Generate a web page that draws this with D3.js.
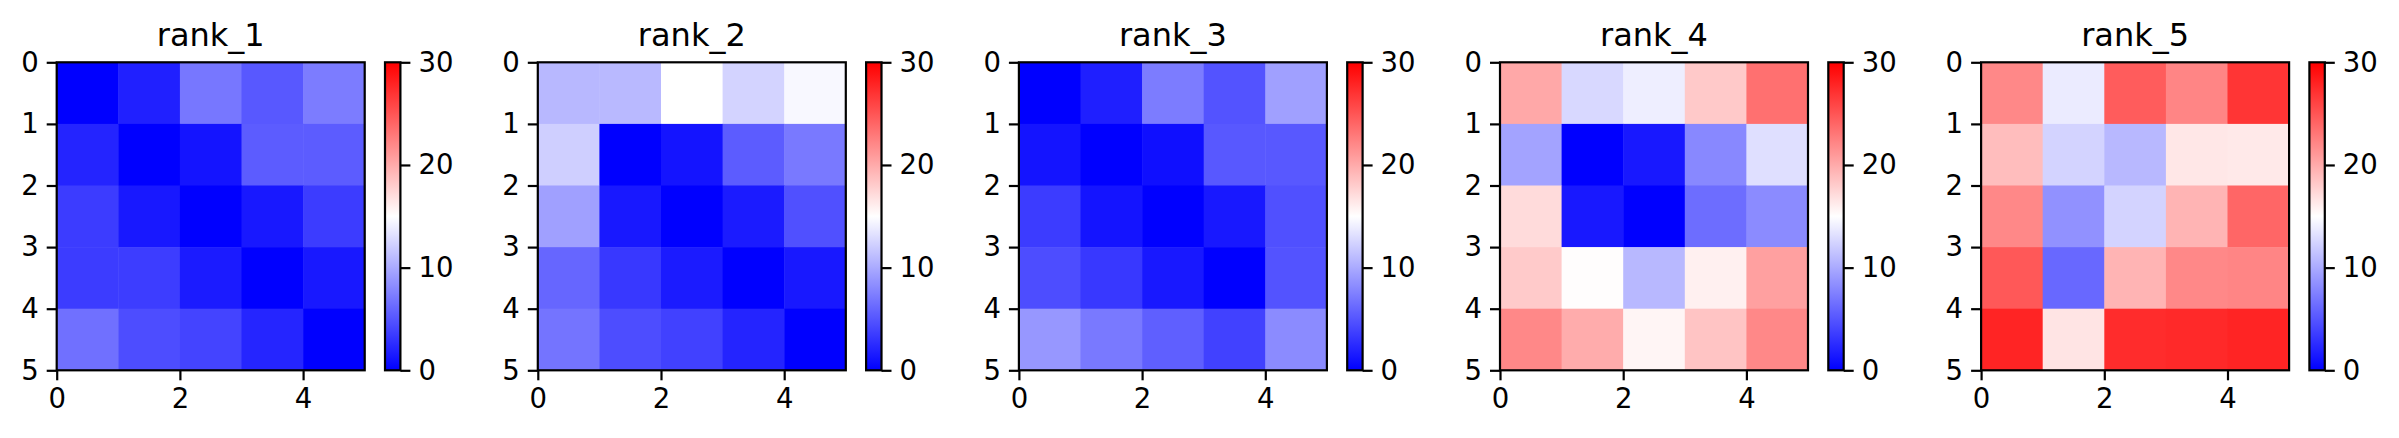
<!DOCTYPE html>
<html>
<head>
  <meta charset="utf-8">
  <script src="https://d3js.org/d3.v7.min.js"></script>
  <style>
    body { margin: 0; background: #fff; }
    svg text { font-family: "DejaVu Sans", sans-serif; fill: #000; }
    .axis path, .axis line { stroke: #000; stroke-width: 2.2px; }
  </style>
</head>
<body>
<div id="chart"></div>
<script>
  // values (colour scale 0..30, bwr)
  var titles = ["rank_1", "rank_2", "rank_3", "rank_4", "rank_5"];

  var rank1 = [
    [0.0, 1.9, 7.0, 5.2, 7.3],
    [2.1, 0.0, 1.2, 5.4, 5.4],
    [3.5, 1.4, 0.0, 1.4, 3.5],
    [3.5, 3.6, 1.6, 0.0, 1.4],
    [6.6, 4.5, 4.0, 2.2, 0.0]
  ];
  var rank2 = [
    [10.8, 10.9, 15.0, 12.4, 14.6],
    [12.2, 0.0, 1.2, 5.4, 7.1],
    [9.4, 1.4, 0.0, 1.6, 4.7],
    [6.0, 3.3, 1.6, 0.0, 1.4],
    [6.8, 4.5, 3.8, 2.1, 0.0]
  ];
  var rank3 = [
    [0.0, 1.8, 7.3, 4.9, 9.4],
    [1.2, 0.0, 0.9, 5.2, 5.2],
    [3.5, 1.2, 0.0, 1.4, 4.7],
    [4.5, 3.3, 1.4, 0.0, 4.9],
    [8.9, 7.1, 5.6, 3.8, 8.2]
  ];
  var rank4 = [
    [20.1, 12.7, 14.0, 18.2, 23.4],
    [9.6, 0.0, 1.4, 8.0, 13.1],
    [17.1, 1.4, 0.0, 6.4, 8.2],
    [18.1, 15.1, 10.8, 15.9, 20.6],
    [22.0, 19.9, 15.6, 18.5, 22.0]
  ];
  var rank5 = [
    [22.0, 13.8, 24.6, 22.2, 26.9],
    [18.9, 12.4, 10.8, 16.4, 16.3],
    [22.0, 8.5, 12.4, 19.4, 24.0],
    [24.8, 6.1, 19.4, 22.0, 22.2],
    [27.9, 16.6, 27.4, 27.6, 27.9]
  ];
  var matrices = [rank1, rank2, rank3, rank4, rank5];

  var xTicks = [0, 2, 4],
      yTicks = [0, 1, 2, 3, 4, 5],
      cbTicks = [0, 10, 20, 30];
  var vmin = 0, vmax = 30;

  // layout
  var W = 2399, H = 438;
  var left0 = 56.7, step = 481.1, axTop = 62.3, size = 308,
      cbGap = 20.3, cbW = 15.4, tickLen = 10;

  var color = d3.scaleLinear()
    .domain([vmin, (vmin + vmax) / 2, vmax])
    .range(["#0000ff", "#ffffff", "#ff0000"])
    .interpolate(d3.interpolateRgb);

  var svg = d3.select("#chart").append("svg")
    .attr("width", W)
    .attr("height", H);

  // gradient for the colorbars
  var grad = svg.append("defs").append("linearGradient")
    .attr("id", "bwr")
    .attr("x1", "0").attr("y1", "1").attr("x2", "0").attr("y2", "0");
  grad.selectAll("stop")
    .data(d3.range(0, 1.0001, 0.05))
    .enter().append("stop")
    .attr("offset", function(t) { return t; })
    .attr("stop-color", function(t) { return color(vmin + t * (vmax - vmin)); });

  matrices.forEach(function(m, i) {
    var ox = left0 + i * step;
    var n = m.length;

    var x = d3.scaleLinear().domain([0, n]).range([0, size]),
        y = d3.scaleLinear().domain([0, n]).range([0, size]);

    var g = svg.append("g").attr("transform", "translate(" + ox + "," + axTop + ")");

    // cells
    m.forEach(function(row, r) {
      g.selectAll(null)
        .data(row)
        .enter().append("rect")
        .attr("x", function(d, c) { return x(c); })
        .attr("y", y(r))
        .attr("width", function(d, c) { return x(c + 1) - x(c) + 0.5; })
        .attr("height", y(r + 1) - y(r) + 0.5)
        .attr("fill", function(d) { return color(d); });
    });

    // axes
    g.append("g")
      .attr("class", "axis")
      .attr("transform", "translate(0," + size + ")")
      .call(d3.axisBottom(x).tickValues(xTicks).tickFormat(d3.format("d"))
        .tickSize(tickLen).tickSizeOuter(0).tickPadding(8))
      .call(function(a) { a.select(".domain").remove(); })
      .selectAll("text").style("font-size", "27.5px");

    g.append("g")
      .attr("class", "axis")
      .call(d3.axisLeft(y).tickValues(yTicks).tickFormat(d3.format("d"))
        .tickSize(tickLen).tickSizeOuter(0).tickPadding(8))
      .call(function(a) { a.select(".domain").remove(); })
      .selectAll("text").style("font-size", "27.5px");

    // frame
    g.append("rect")
      .attr("width", size).attr("height", size)
      .attr("fill", "none").attr("stroke", "#000").attr("stroke-width", 2.2);

    // title
    g.append("text")
      .attr("x", size / 2)
      .attr("y", -16)
      .attr("text-anchor", "middle")
      .style("font-size", "32px")
      .text(titles[i]);

    // colorbar
    var cb = svg.append("g")
      .attr("transform", "translate(" + (ox + size + cbGap) + "," + axTop + ")");
    var cy = d3.scaleLinear().domain([vmin, vmax]).range([size, 0]);

    cb.append("rect")
      .attr("width", cbW).attr("height", size)
      .attr("fill", "url(#bwr)");

    cb.append("g")
      .attr("class", "axis")
      .attr("transform", "translate(" + cbW + ",0)")
      .call(d3.axisRight(cy).tickValues(cbTicks)
        .tickSize(tickLen).tickSizeOuter(0).tickPadding(8))
      .call(function(a) { a.select(".domain").remove(); })
      .selectAll("text").style("font-size", "27.5px");

    cb.append("rect")
      .attr("width", cbW).attr("height", size)
      .attr("fill", "none").attr("stroke", "#000").attr("stroke-width", 2.2);
  });
</script>
</body>
</html>
